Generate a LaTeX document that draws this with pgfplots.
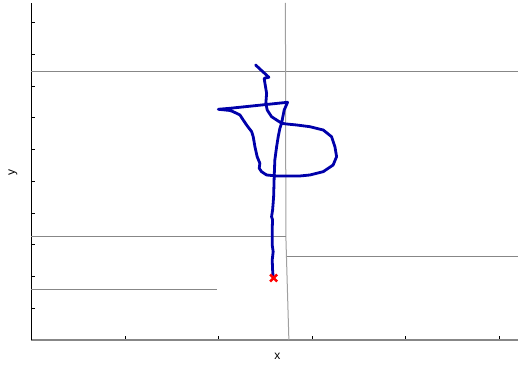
\documentclass[border=0pt]{standalone}
\usepackage{pgfplots}
\pgfplotsset{compat=1.18}
\usepackage{fontspec}
\setmainfont{Liberation Sans}
\definecolor{wall}{RGB}{135,135,135}
\definecolor{wallv}{RGB}{160,160,160}
\definecolor{path}{RGB}{0,0,170}
\begin{document}
\begin{tikzpicture}
\begin{axis}[
  at={(0,0)}, anchor=south west,
  scale only axis, width=486.5pt, height=337pt,
  xmin=0, xmax=5.2, ymin=0, ymax=10.62,
  axis lines=left,
  x axis line style={-, draw=wall, line width=1.4pt},
  y axis line style={-, draw=black, line width=0.9pt},
  xtick={0,1,2,3,4,5}, ytick={0,1,2,3,4,5,6,7,8,9,10},
  xticklabels={}, yticklabels={},
  tick align=inside, major tick length=4pt,
  tick style={black, line width=0.8pt},
  xlabel={x}, ylabel={y},
  label style={font=\fontsize{12}{14}\selectfont},
  xlabel style={at={(axis description cs:0.5056,-0.048)}, anchor=center},
  ylabel style={at={(axis description cs:-0.038,0.4985)}, anchor=center, rotate=0},
  clip=false,
]
% walls
\addplot[wall, line width=1pt] coordinates {(0,8.446) (5.2,8.446)};
\addplot[wallv, line width=1pt] coordinates {(2.714,10.62) (2.719,3.246) (2.751,0)};
\addplot[wall, line width=1pt] coordinates {(0,3.25) (2.719,3.25)};
\addplot[wall, line width=1pt] coordinates {(2.73,2.647) (5.2,2.647)};
\addplot[wall, line width=1pt] coordinates {(0,1.598) (1.982,1.598)};
% trajectory
\addplot[path, line width=2.8pt, line join=round, line cap=round] coordinates {
(2.583,1.963) (2.577,2.206) (2.573,2.521) (2.583,2.783) (2.573,2.994)
(2.573,3.256) (2.573,3.530) (2.577,3.782) (2.566,3.886) (2.577,4.097)
(2.583,4.318) (2.588,4.516) (2.591,4.831) (2.594,5.147) (2.601,5.673)
(2.620,6.092) (2.637,6.407) (2.655,6.672) (2.673,6.830) (2.701,7.249)
(2.737,7.491) (2.121,7.302) (1.996,7.271) (2.121,7.233) (2.156,7.195)
(2.228,7.091) (2.263,6.933) (2.299,6.776) (2.353,6.565) (2.370,6.407)
(2.388,6.092) (2.412,5.777) (2.441,5.569) (2.434,5.411) (2.459,5.304)
(2.513,5.200) (2.620,5.169) (2.869,5.169) (2.975,5.200) (3.118,5.304)
(3.224,5.515) (3.261,5.777) (3.243,6.092) (3.207,6.407) (3.118,6.618)
(2.975,6.722) (2.833,6.776) (2.726,6.807) (2.673,6.830) (2.620,6.933)
(2.566,7.037) (2.519,7.249) (2.505,7.460) (2.513,7.775) (2.495,8.090)
(2.487,8.248) (2.537,8.279) (2.395,8.667)
};
\addplot[red, only marks, mark=x, mark size=5pt, mark options={line width=2.4pt}] coordinates {(2.588,1.953)};
\end{axis}
\pgfresetboundingbox
\useasboundingbox (-31.5pt,-24pt) rectangle (486.5pt,340pt);
\end{tikzpicture}
\end{document}
